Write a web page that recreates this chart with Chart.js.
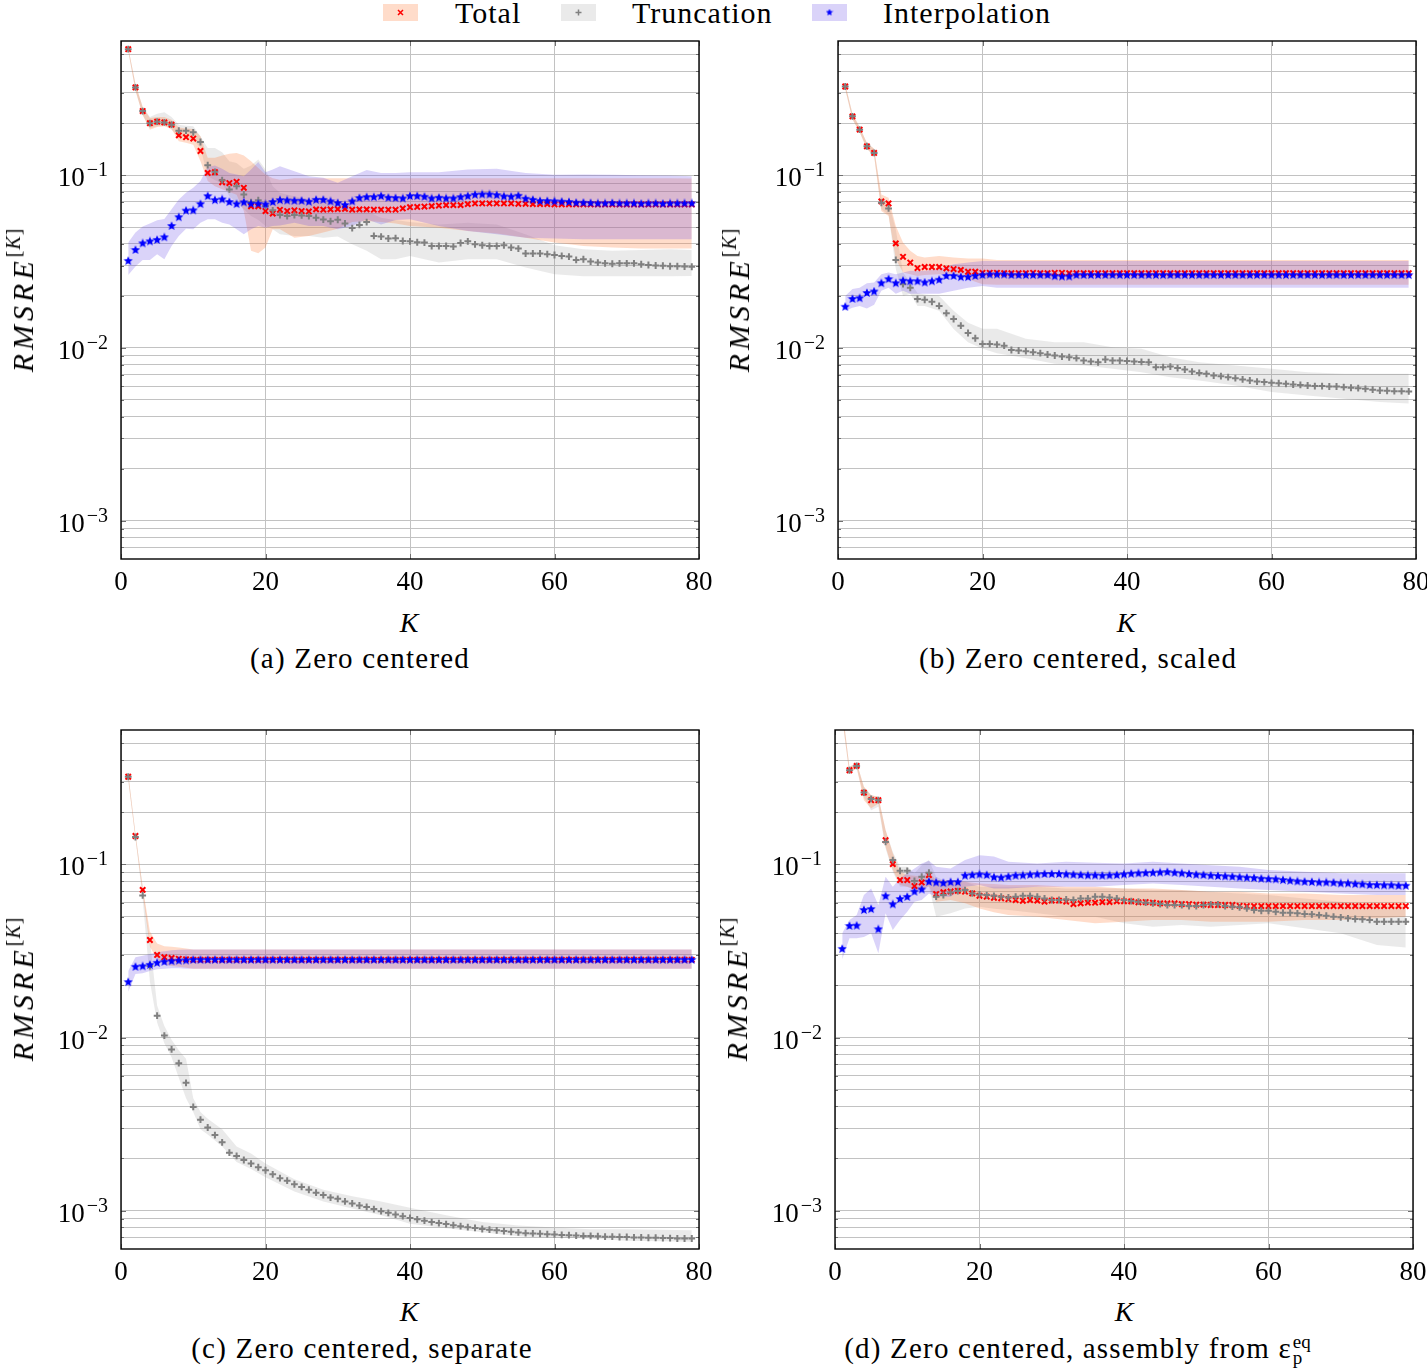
<!DOCTYPE html>
<html>
<head>
<meta charset="utf-8">
<script src="https://cdn.jsdelivr.net/npm/chart.js@4.4.1/dist/chart.umd.min.js"></script>
<style>
  html, body { margin: 0; padding: 0; background: #fff; }
  body { position: relative; width: 1427px; height: 1370px; overflow: hidden; font-family: "Liberation Serif", serif; color: #000; }
  canvas.panel { position: absolute; }
  canvas.legend-box { position: absolute; top: 4px; }
  .legend-text { position: absolute; top: -2px; font-size: 30px; line-height: 30px; letter-spacing: 1px; white-space: nowrap; }
  .caption { position: absolute; font-size: 29px; line-height: 34px; letter-spacing: 1.2px; text-align: center; white-space: nowrap; }
  .xtitle { position: absolute; width: 60px; font-size: 28px; line-height: 32px; font-style: italic; text-align: center; }
  .ytitle { position: absolute; font-size: 30px; line-height: 32px; font-style: italic; letter-spacing: 4px; white-space: nowrap; transform: translate(-50%, -50%) rotate(-90deg); }
  .ytitle .sup { font-size: 20px; vertical-align: 13px; letter-spacing: 1px; }
  .up { font-style: normal; }
  .ssw { display: inline-block; position: relative; width: 24px; height: 20px; letter-spacing: 0; }
  .ssw span { position: absolute; left: 1px; font-size: 19px; line-height: 20px; }
</style>
</head>
<body>

<canvas class="legend-box" id="lg-total" width="35" height="17" style="left:383px"></canvas>
<div class="legend-text" style="left:455px">Total</div>
<canvas class="legend-box" id="lg-trunc" width="35" height="17" style="left:561px"></canvas>
<div class="legend-text" style="left:632px">Truncation</div>
<canvas class="legend-box" id="lg-interp" width="35" height="17" style="left:812px"></canvas>
<div class="legend-text" style="left:883px">Interpolation</div>

<canvas class="panel" id="pa" width="721" height="604" style="left:0px;top:0px"></canvas>
<canvas class="panel" id="pb" width="721" height="604" style="left:717px;top:0px"></canvas>
<canvas class="panel" id="pc" width="721" height="605" style="left:0px;top:689px"></canvas>
<canvas class="panel" id="pd" width="721" height="605" style="left:714px;top:689px"></canvas>

<div class="ytitle" style="left:18px;top:300px">RMSRE<span class="sup"><span class="up">[</span>K<span class="up">]</span></span></div>
<div class="ytitle" style="left:734px;top:300px">RMSRE<span class="sup"><span class="up">[</span>K<span class="up">]</span></span></div>
<div class="ytitle" style="left:18px;top:989px">RMSRE<span class="sup"><span class="up">[</span>K<span class="up">]</span></span></div>
<div class="ytitle" style="left:732px;top:989px">RMSRE<span class="sup"><span class="up">[</span>K<span class="up">]</span></span></div>

<div class="xtitle" style="left:379px;top:607px">K</div>
<div class="xtitle" style="left:1096px;top:607px">K</div>
<div class="xtitle" style="left:379px;top:1296px">K</div>
<div class="xtitle" style="left:1094px;top:1296px">K</div>

<div class="caption" style="left:0px;top:641px;width:720px">(a) Zero centered</div>
<div class="caption" style="left:720px;top:641px;width:716px">(b) Zero centered, scaled</div>
<div class="caption" style="left:0px;top:1331px;width:724px">(c) Zero centered, separate</div>
<div class="caption" style="left:720px;top:1331px;width:720px">(d) Zero centered, assembly from ε<span class="ssw"><span style="top:-6px">eq</span><span style="top:10px">p</span></span></div>

<script>
// axis setup shared by all four panels
const Y_MIN = 0.00061;
const Y_MAX = 0.598;
const Y_GRID = [0.0007, 0.0008, 0.0009, 0.001, 0.002, 0.003, 0.004, 0.005, 0.006, 0.007, 0.008, 0.009,
  0.01, 0.02, 0.03, 0.04, 0.05, 0.06, 0.07, 0.08, 0.09, 0.1, 0.2, 0.3, 0.4, 0.5];
const Y_LABEL_VALUES = [0.001, 0.01, 0.1];
const Y_LABEL_EXPONENTS = ['−3', '−2', '−1'];
const X_TICKS = [0, 20, 40, 60, 80];

const kValues = Array.from({ length: 79 }, (_, i) => i + 1);

const RED = '#ff0000';
const GRAY = '#808080';
const BLUE = '#0000ff';
const TOTAL_BAND = 'rgba(255,128,64,0.28)';
const TRUNC_BAND = 'rgba(128,128,128,0.17)';
const INTERP_BAND = 'rgba(100,70,230,0.24)';

// (a) Zero centered
const aTotal = [0.536, 0.322, 0.235, 0.200, 0.204, 0.202, 0.196, 0.170, 0.166, 0.163,
  0.138, 0.103, 0.104, 0.091, 0.090, 0.0915, 0.0845, 0.066, 0.066, 0.062,
  0.060, 0.063, 0.062, 0.0626, 0.062, 0.0617, 0.0634, 0.0631, 0.0634, 0.0636,
  0.0638, 0.0631, 0.0634, 0.0634, 0.0631, 0.0631, 0.0631, 0.0631, 0.0642, 0.0653,
  0.0655, 0.0658, 0.0662, 0.0667, 0.0671, 0.0671, 0.0671, 0.068, 0.0686, 0.0686,
  0.0686, 0.0686, 0.0686, 0.0686, 0.0683, 0.0683, 0.068, 0.068, 0.068, 0.0677,
  0.0677, 0.0677, 0.0677, 0.0677, 0.0677, 0.0677, 0.0677, 0.0677, 0.0677, 0.0677,
  0.0677, 0.0677, 0.0677, 0.0677, 0.0677, 0.0677, 0.0677, 0.0677, 0.0677];
const aTrunc = [0.536, 0.322, 0.235, 0.200, 0.204, 0.202, 0.196, 0.181, 0.181, 0.177,
  0.1556, 0.1143, 0.1045, 0.0936, 0.0827, 0.0864, 0.0773, 0.0699, 0.0717, 0.0662,
  0.0626, 0.0588, 0.0580, 0.0588, 0.0585, 0.0580, 0.0567, 0.0553, 0.0541, 0.0552,
  0.0526, 0.0494, 0.0515, 0.0535, 0.0445, 0.0441, 0.0430, 0.0432, 0.0416, 0.0414,
  0.0409, 0.0407, 0.0389, 0.0389, 0.0389, 0.0386, 0.0405, 0.0414, 0.0398, 0.0393,
  0.0389, 0.0389, 0.0393, 0.0381, 0.0376, 0.0352, 0.0352, 0.0352, 0.0349, 0.0345,
  0.0341, 0.0338, 0.0323, 0.0326, 0.0316, 0.0312, 0.0309, 0.0307, 0.0309, 0.0309,
  0.0309, 0.0305, 0.0302, 0.0300, 0.0299, 0.0297, 0.0297, 0.0296, 0.0295];
const aInterp = [0.0319, 0.0369, 0.0403, 0.0414, 0.0422, 0.0437, 0.0508, 0.0571, 0.0623, 0.0626,
  0.0680, 0.0756, 0.0717, 0.0724, 0.0699, 0.0680, 0.0696, 0.0683, 0.0683, 0.0677,
  0.0699, 0.0717, 0.0714, 0.0711, 0.0711, 0.0702, 0.0720, 0.0720, 0.0705, 0.0689,
  0.0671, 0.0705, 0.0737, 0.0746, 0.0746, 0.0756, 0.0740, 0.0737, 0.0733, 0.0756,
  0.0756, 0.0750, 0.0733, 0.0740, 0.0733, 0.0733, 0.0746, 0.0756, 0.0770, 0.0773,
  0.0773, 0.0766, 0.0753, 0.0750, 0.0760, 0.0730, 0.0720, 0.0708, 0.0708, 0.0705,
  0.0702, 0.0699, 0.0692, 0.0692, 0.0689, 0.0686, 0.0686, 0.0689, 0.0686, 0.0686,
  0.0686, 0.0683, 0.0686, 0.0686, 0.0683, 0.0686, 0.0686, 0.0686, 0.0686];
const aBandK = [1, 2, 3, 4, 5, 6, 7, 8, 9, 10, 11, 12, 13, 14, 15, 16, 17, 18, 19, 20, 21, 22,
  24, 26, 28, 30, 32, 34, 36, 38, 40, 44, 48, 52, 56, 60, 64, 68, 72, 76, 79];
const aTotalHi = [0.548, 0.338, 0.248, 0.214, 0.217, 0.217, 0.209, 0.189, 0.186, 0.185,
  0.168, 0.126, 0.126, 0.130, 0.133, 0.1345, 0.130, 0.1205, 0.110, 0.101, 0.096, 0.094,
  0.096, 0.0961, 0.0961, 0.0961, 0.0961, 0.0961, 0.0961, 0.0961, 0.0961,
  0.0961, 0.0961, 0.0961, 0.0961, 0.0961, 0.0961, 0.096, 0.096, 0.096, 0.0958];
const aTotalLo = [0.523, 0.309, 0.223, 0.1835, 0.190, 0.192, 0.185, 0.157, 0.154, 0.150,
  0.1205, 0.0924, 0.0864, 0.083, 0.080, 0.077, 0.062, 0.0365, 0.0353, 0.0381, 0.0486, 0.0486,
  0.0435, 0.0445, 0.0465, 0.049, 0.0535, 0.0543, 0.0535, 0.0526, 0.0508,
  0.0497, 0.0475, 0.046, 0.0435, 0.0407, 0.0389, 0.0381, 0.0376, 0.0376, 0.0376];
const aInterpHi = [0.0407, 0.0465, 0.0505, 0.0526, 0.0548, 0.0557, 0.0634, 0.0724, 0.0791, 0.0845,
  0.0924, 0.1116, 0.1138, 0.1088, 0.1031, 0.1009, 0.0987, 0.1078, 0.1190, 0.104, 0.1078, 0.1127,
  0.1054, 0.0987, 0.0965, 0.0903, 0.0987, 0.107, 0.1031, 0.1031, 0.104,
  0.104, 0.1078, 0.1088, 0.1031, 0.1005, 0.1009, 0.1005, 0.100, 0.0996, 0.0987];
const aInterpLo = [0.0264, 0.0296, 0.0323, 0.0323, 0.0349, 0.0326, 0.0389, 0.0445, 0.049, 0.0486,
  0.0531, 0.0555, 0.0555, 0.0531, 0.0519, 0.0486, 0.0455, 0.0486, 0.0508, 0.0497, 0.0508, 0.0512,
  0.0531, 0.0508, 0.0508, 0.0486, 0.0508, 0.0555, 0.0519, 0.055, 0.0555,
  0.0508, 0.0475, 0.0455, 0.0435, 0.043, 0.0426, 0.0426, 0.0426, 0.0426, 0.0426];
const aTruncHi = [0.548, 0.338, 0.248, 0.217, 0.227, 0.231, 0.217, 0.196, 0.193, 0.192,
  0.168, 0.1438, 0.1438, 0.1356, 0.1205, 0.1178, 0.1088, 0.1138, 0.1231, 0.1078, 0.0864, 0.0791,
  0.0756, 0.0724, 0.0708, 0.0699, 0.0662, 0.062, 0.0567, 0.055, 0.0535,
  0.0519, 0.0531, 0.0519, 0.0455, 0.0393, 0.0373, 0.0365, 0.0369, 0.0373, 0.0369];
const aTruncLo = [0.523, 0.309, 0.223, 0.187, 0.192, 0.196, 0.1835, 0.1663, 0.1663, 0.1605,
  0.1438, 0.0987, 0.0936, 0.0894, 0.0756, 0.0692, 0.0634, 0.058, 0.055, 0.0508, 0.0486, 0.0455,
  0.0445, 0.0445, 0.0435, 0.0441, 0.0398, 0.0365, 0.0326, 0.0326, 0.0341,
  0.0312, 0.0326, 0.0326, 0.0292, 0.0267, 0.026, 0.026, 0.026, 0.026, 0.0261];

// (b) Zero centered, scaled
const bTotal = [0.326, 0.219, 0.1835, 0.147, 0.1345, 0.0705, 0.0686, 0.0403, 0.0337, 0.0312,
  0.0290, 0.0294, 0.0294, 0.0294, 0.0289, 0.0286, 0.0283, 0.0276, 0.0276, 0.0272,
  0.0272, 0.0272, 0.0271, 0.0271, 0.0271, 0.0271, 0.0272, 0.0271, 0.0271, 0.0272,
  0.0272, 0.0271, 0.0271, 0.0271, 0.0271, 0.0271, 0.0271, 0.0271, 0.0271, 0.0271,
  0.0271, 0.0271, 0.0271, 0.0271, 0.0271, 0.0271, 0.0271, 0.0271, 0.0271, 0.0271,
  0.0271, 0.0271, 0.0271, 0.0271, 0.0271, 0.0271, 0.0271, 0.0271, 0.0271, 0.0271,
  0.0271, 0.0271, 0.0271, 0.0271, 0.0271, 0.0271, 0.0271, 0.0271, 0.0271, 0.0271,
  0.0271, 0.0271, 0.0271, 0.0271, 0.0271, 0.0271, 0.0271, 0.0271, 0.0271];
const bTrunc = [0.326, 0.219, 0.1835, 0.147, 0.1345, 0.0692, 0.0642, 0.0323, 0.0234, 0.0223,
  0.0192, 0.0190, 0.0185, 0.0175, 0.0159, 0.0147, 0.01345, 0.0122, 0.01138, 0.01055,
  0.01055, 0.01045, 0.0103, 0.00973, 0.00966, 0.00957, 0.00945, 0.00932, 0.00916, 0.00904,
  0.00891, 0.00883, 0.00872, 0.00845, 0.00834, 0.00826, 0.00857, 0.00845, 0.00845, 0.00841,
  0.00834, 0.00830, 0.00826, 0.00774, 0.00774, 0.00780, 0.00764, 0.00750, 0.00730, 0.00717,
  0.00708, 0.00692, 0.00686, 0.00677, 0.00668, 0.00657, 0.00648, 0.00639, 0.00634, 0.00628,
  0.00625, 0.00620, 0.00614, 0.00611, 0.00606, 0.00601, 0.00601, 0.00598, 0.00598, 0.00593,
  0.00588, 0.00585, 0.00580, 0.00573, 0.00567, 0.00565, 0.00562, 0.00562, 0.00560];
const bInterp = [0.0173, 0.0192, 0.0194, 0.0208, 0.0212, 0.0237, 0.0250, 0.0237, 0.0245, 0.0243,
  0.0243, 0.0239, 0.0243, 0.0248, 0.0261, 0.0261, 0.0257, 0.0257, 0.0261, 0.0264,
  0.0266, 0.0266, 0.0266, 0.0264, 0.0264, 0.0264, 0.0264, 0.0264, 0.0264, 0.0260,
  0.0259, 0.0259, 0.0264, 0.0264, 0.0264, 0.0264, 0.0264, 0.0264, 0.0264, 0.0264,
  0.0264, 0.0264, 0.0264, 0.0264, 0.0264, 0.0264, 0.0264, 0.0264, 0.0264, 0.0264,
  0.0264, 0.0264, 0.0264, 0.0264, 0.0264, 0.0264, 0.0264, 0.0264, 0.0264, 0.0264,
  0.0264, 0.0264, 0.0264, 0.0264, 0.0264, 0.0264, 0.0264, 0.0264, 0.0264, 0.0264,
  0.0264, 0.0264, 0.0264, 0.0264, 0.0264, 0.0264, 0.0264, 0.0264, 0.0264];
const bBandK = [1, 2, 3, 4, 5, 6, 7, 8, 9, 10, 11, 12, 14, 16, 18, 20, 22,
  26, 30, 34, 38, 42, 46, 50, 55, 60, 65, 70, 75, 79];
const bTotalHi = [0.337, 0.227, 0.190, 0.1536, 0.142, 0.0773, 0.074, 0.0508, 0.0407, 0.0365,
  0.0341, 0.0334, 0.0341, 0.0334, 0.0329, 0.0329, 0.0323,
  0.0323, 0.0323, 0.0323, 0.0323, 0.0323, 0.0323, 0.0323, 0.0323, 0.0323, 0.0323, 0.0323, 0.0323, 0.0323];
const bTotalLo = [0.314, 0.211, 0.177, 0.142, 0.1288, 0.062, 0.058, 0.0326, 0.0273, 0.0267,
  0.0261, 0.0264, 0.0267, 0.0264, 0.025, 0.0234, 0.0232,
  0.0232, 0.0232, 0.0232, 0.0232, 0.0232, 0.0232, 0.0232, 0.0232, 0.0232, 0.0232, 0.0232, 0.0232, 0.0232];
const bInterpHi = [0.0200, 0.0219, 0.0223, 0.0237, 0.0239, 0.0267, 0.0273, 0.0267, 0.0273, 0.0280,
  0.0280, 0.0280, 0.0286, 0.0305, 0.0312, 0.0319, 0.0319,
  0.0319, 0.0319, 0.0319, 0.0319, 0.0319, 0.0319, 0.0319, 0.0319, 0.0319, 0.0319, 0.0319, 0.0319, 0.0319];
const bInterpLo = [0.0164, 0.0171, 0.0175, 0.0169, 0.0178, 0.0214, 0.0223, 0.0206, 0.0214, 0.0206,
  0.0206, 0.0206, 0.0206, 0.0214, 0.0223, 0.0228, 0.0223,
  0.0223, 0.0223, 0.0223, 0.0223, 0.0223, 0.0223, 0.0223, 0.0223, 0.0223, 0.0223, 0.0223, 0.0223, 0.0223];
const bTruncHi = [0.337, 0.227, 0.190, 0.1536, 0.142, 0.074, 0.0692, 0.0486, 0.0273, 0.0239,
  0.0208, 0.0204, 0.0200, 0.0164, 0.0140, 0.0129, 0.0129,
  0.0113, 0.0108, 0.0108, 0.0101, 0.0099, 0.00883, 0.00826, 0.0079, 0.00757, 0.00724, 0.00708, 0.00708, 0.00708];
const bTruncLo = [0.314, 0.211, 0.177, 0.142, 0.1288, 0.0634, 0.0593, 0.0286, 0.0200, 0.0206,
  0.0175, 0.0175, 0.0164, 0.01285, 0.0108, 0.0099, 0.0093,
  0.0087, 0.0081, 0.0079, 0.00757, 0.00724, 0.00677, 0.00648, 0.00606, 0.00555, 0.00531, 0.00508, 0.00486, 0.00476];

// (c) Zero centered, separate
const cTotal = [0.321, 0.146, 0.0713, 0.0366, 0.0300, 0.0291, 0.0288, 0.0285, 0.0283, 0.0281,
  0.0281, 0.0281, 0.0281, 0.0281, 0.0281, 0.0281, 0.0281, 0.0281, 0.0281, 0.0281,
  0.0281, 0.0281, 0.0281, 0.0281, 0.0281, 0.0281, 0.0281, 0.0281, 0.0281, 0.0281,
  0.0281, 0.0281, 0.0281, 0.0281, 0.0281, 0.0281, 0.0281, 0.0281, 0.0281, 0.0281,
  0.0281, 0.0281, 0.0281, 0.0281, 0.0281, 0.0281, 0.0281, 0.0281, 0.0281, 0.0281,
  0.0281, 0.0281, 0.0281, 0.0281, 0.0281, 0.0281, 0.0281, 0.0281, 0.0281, 0.0281,
  0.0281, 0.0281, 0.0281, 0.0281, 0.0281, 0.0281, 0.0281, 0.0281, 0.0281, 0.0281,
  0.0281, 0.0281, 0.0281, 0.0281, 0.0281, 0.0281, 0.0281, 0.0281, 0.0281];
const cTrunc = [0.321, 0.144, 0.0662, 0.0259, 0.01337, 0.01026, 0.00853, 0.00711, 0.00547, 0.00397,
  0.00335, 0.00302, 0.00273, 0.00248, 0.00216, 0.00207, 0.00196, 0.00187, 0.00178, 0.00171,
  0.00162, 0.00154, 0.00149, 0.00142, 0.00137, 0.00132, 0.00127, 0.00123, 0.00119, 0.00117,
  0.00113, 0.00110, 0.00107, 0.00105, 0.00102, 0.000993, 0.000971, 0.000949, 0.000928, 0.000906,
  0.000891, 0.000875, 0.000859, 0.000847, 0.000836, 0.000824, 0.000813, 0.000802, 0.000794, 0.000783,
  0.000776, 0.000769, 0.000762, 0.000755, 0.000748, 0.000741, 0.000738, 0.000735, 0.000731, 0.000728,
  0.000724, 0.000721, 0.000717, 0.000714, 0.000714, 0.000711, 0.000707, 0.000707, 0.000704, 0.000704,
  0.000700, 0.000700, 0.000697, 0.000697, 0.000694, 0.000694, 0.000690, 0.000690, 0.000690];
const cInterp = [0.0209, 0.0256, 0.0258, 0.0263, 0.0270, 0.0274, 0.0276, 0.0278, 0.0279, 0.0281,
  0.0281, 0.0281, 0.0281, 0.0281, 0.0281, 0.0281, 0.0281, 0.0281, 0.0281, 0.0281,
  0.0281, 0.0281, 0.0281, 0.0281, 0.0281, 0.0281, 0.0281, 0.0281, 0.0281, 0.0281,
  0.0281, 0.0281, 0.0281, 0.0281, 0.0281, 0.0281, 0.0281, 0.0281, 0.0281, 0.0281,
  0.0281, 0.0281, 0.0281, 0.0281, 0.0281, 0.0281, 0.0281, 0.0281, 0.0281, 0.0281,
  0.0281, 0.0281, 0.0281, 0.0281, 0.0281, 0.0281, 0.0281, 0.0281, 0.0281, 0.0281,
  0.0281, 0.0281, 0.0281, 0.0281, 0.0281, 0.0281, 0.0281, 0.0281, 0.0281, 0.0281,
  0.0281, 0.0281, 0.0281, 0.0281, 0.0281, 0.0281, 0.0281, 0.0281, 0.0281];
const cBandK = [1, 2, 3, 4, 5, 6, 7, 8, 9, 10, 11, 12, 14, 16, 18, 20, 24, 28, 32, 36, 40, 45, 50, 55, 60, 65, 70, 79];
const cTotalHi = [0.336, 0.151, 0.0743, 0.041, 0.0349, 0.0337, 0.0334, 0.0331, 0.0327, 0.0323,
  0.0323, 0.0323, 0.0323, 0.0323, 0.0323, 0.0323, 0.0323, 0.0323, 0.0323, 0.0323,
  0.0323, 0.0323, 0.0323, 0.0323, 0.0323, 0.0323, 0.0323, 0.0323];
const cTotalLo = [0.307, 0.141, 0.0678, 0.0334, 0.0284, 0.0263, 0.0259, 0.0256, 0.0253, 0.0250,
  0.0250, 0.0250, 0.0250, 0.0250, 0.0250, 0.0250, 0.0250, 0.0250, 0.0250, 0.0250,
  0.0250, 0.0250, 0.0250, 0.0250, 0.0250, 0.0250, 0.0250, 0.0250];
const cInterpHi = [0.0242, 0.0291, 0.0297, 0.0304, 0.0311, 0.0315, 0.0319, 0.0321, 0.0322, 0.0323,
  0.0323, 0.0323, 0.0323, 0.0323, 0.0323, 0.0323, 0.0323, 0.0323, 0.0323, 0.0323,
  0.0323, 0.0323, 0.0323, 0.0323, 0.0323, 0.0323, 0.0323, 0.0323];
const cInterpLo = [0.0184, 0.0233, 0.0235, 0.0242, 0.0248, 0.0250, 0.0251, 0.0251, 0.0250, 0.0250,
  0.0250, 0.0250, 0.0250, 0.0250, 0.0250, 0.0250, 0.0250, 0.0250, 0.0250, 0.0250,
  0.0250, 0.0250, 0.0250, 0.0250, 0.0250, 0.0250, 0.0250, 0.0250];
const cTruncHi = [0.336, 0.151, 0.0743, 0.0366, 0.0153, 0.01164, 0.0097, 0.00845, 0.00753, 0.00446,
  0.00371, 0.00339, 0.00295, 0.00235, 0.00214, 0.00187, 0.00152, 0.00132, 0.00121, 0.00113,
  0.00104, 0.00094, 0.00086, 0.00082, 0.00080, 0.00078, 0.00078, 0.00077];
const cTruncLo = [0.307, 0.141, 0.0633, 0.0211, 0.0122, 0.00927, 0.0077, 0.00586, 0.00446, 0.00371,
  0.00295, 0.00275, 0.00235, 0.00191, 0.00174, 0.00156, 0.00129, 0.00113, 0.00103, 0.00094,
  0.00084, 0.00079, 0.00075, 0.00071, 0.00070, 0.00069, 0.00067, 0.00066];

// (d) Zero centered, assembly from eps_p^eq  (K=1 of total/truncation lies above the axis)
const dTotal = [0.75, 0.350, 0.371, 0.260, 0.235, 0.235, 0.138, 0.1004, 0.0812, 0.0812,
  0.075, 0.0787, 0.0868, 0.0674, 0.0692, 0.0698, 0.0704, 0.0696, 0.0680, 0.0659,
  0.0651, 0.0642, 0.0637, 0.0630, 0.0623, 0.0616, 0.0623, 0.0618, 0.0609, 0.0618,
  0.0618, 0.0609, 0.0590, 0.0596, 0.0601, 0.0601, 0.0606, 0.0606, 0.0612, 0.0612,
  0.0612, 0.0604, 0.0606, 0.0601, 0.0596, 0.0596, 0.0596, 0.0590, 0.0590, 0.0586,
  0.0586, 0.0583, 0.0583, 0.0583, 0.0583, 0.0577, 0.0575, 0.0575, 0.0575, 0.0575,
  0.0575, 0.0575, 0.0575, 0.0575, 0.0575, 0.0575, 0.0575, 0.0575, 0.0575, 0.0575,
  0.0575, 0.0575, 0.0575, 0.0575, 0.0575, 0.0575, 0.0575, 0.0575, 0.0575];
const dTrunc = [0.75, 0.350, 0.371, 0.260, 0.239, 0.235, 0.135, 0.106, 0.0919, 0.0919,
  0.0802, 0.0849, 0.0895, 0.0651, 0.0666, 0.0689, 0.0702, 0.0711, 0.0680, 0.0671,
  0.0665, 0.0659, 0.0651, 0.0645, 0.0651, 0.0659, 0.0659, 0.0651, 0.0636, 0.0623,
  0.0623, 0.0628, 0.0623, 0.0636, 0.0636, 0.0651, 0.0651, 0.0645, 0.0636, 0.0623,
  0.0614, 0.0609, 0.0601, 0.0596, 0.0590, 0.0583, 0.0583, 0.0583, 0.0575, 0.0575,
  0.0583, 0.0588, 0.0588, 0.0575, 0.0570, 0.0565, 0.0557, 0.0545, 0.0540, 0.0540,
  0.0533, 0.0526, 0.0526, 0.0522, 0.0517, 0.0515, 0.0510, 0.0506, 0.0499, 0.0495,
  0.0488, 0.0484, 0.0482, 0.0478, 0.0467, 0.0467, 0.0467, 0.0467, 0.0467];
const dInterp = [0.0325, 0.0441, 0.0443, 0.0545, 0.0552, 0.0422, 0.0656, 0.0588, 0.0631, 0.0649,
  0.0696, 0.0717, 0.0794, 0.0787, 0.0780, 0.0790, 0.0790, 0.0861, 0.0868, 0.0875,
  0.0868, 0.0842, 0.0838, 0.0849, 0.0861, 0.0864, 0.0872, 0.0876, 0.0880, 0.0880,
  0.0880, 0.0876, 0.0872, 0.0868, 0.0864, 0.0864, 0.0861, 0.0864, 0.0868, 0.0876,
  0.0884, 0.0888, 0.0891, 0.0895, 0.0899, 0.0903, 0.0895, 0.0888, 0.0880, 0.0872,
  0.0868, 0.0861, 0.0857, 0.0853, 0.0849, 0.0842, 0.0838, 0.0834, 0.0827, 0.0823,
  0.0820, 0.0812, 0.0805, 0.0798, 0.0794, 0.0791, 0.0787, 0.0787, 0.0784, 0.0777,
  0.0777, 0.0770, 0.0767, 0.0760, 0.0760, 0.0757, 0.0757, 0.0753, 0.0753];
const dBandK = [1, 2, 3, 4, 5, 6, 7, 8, 9, 10, 11, 12, 13, 14,
  16, 18, 20, 22, 24, 28, 32, 36, 40, 44, 48, 52, 56, 60, 65, 70, 75, 79];
const dTotalHi = [0.80, 0.366, 0.388, 0.281, 0.251, 0.246, 0.158, 0.116, 0.0907, 0.0868, 0.086, 0.0849, 0.090, 0.0812,
  0.0812, 0.0794, 0.0777, 0.077, 0.076, 0.076, 0.0743, 0.0743, 0.0727, 0.0727, 0.0711, 0.0696, 0.0696, 0.068, 0.068, 0.0665, 0.0665, 0.0665];
const dTotalLo = [0.70, 0.333, 0.362, 0.235, 0.211, 0.224, 0.1265, 0.093, 0.076, 0.0743, 0.072, 0.0711, 0.075, 0.0609,
  0.0623, 0.0596, 0.0557, 0.053, 0.051, 0.0499, 0.0478, 0.0457, 0.0467, 0.0478, 0.0478, 0.0467, 0.0467, 0.0467, 0.0478, 0.0478, 0.0488, 0.0499];
const dInterpHi = [0.040, 0.0478, 0.051, 0.0665, 0.0727, 0.0582, 0.0849, 0.0743, 0.0831, 0.0888, 0.0948, 0.1013, 0.105, 0.097,
  0.0948, 0.106, 0.113, 0.111, 0.1036, 0.1013, 0.1036, 0.1022, 0.1013, 0.1036, 0.1013, 0.099, 0.097, 0.0928, 0.0907, 0.0888, 0.0888, 0.0888];
const dInterpLo = [0.0283, 0.0374, 0.0374, 0.0381, 0.040, 0.0307, 0.0522, 0.0418, 0.0478, 0.0533, 0.0609, 0.0623, 0.068, 0.0651,
  0.0651, 0.0743, 0.076, 0.0727, 0.0727, 0.0743, 0.0743, 0.0743, 0.076, 0.0777, 0.076, 0.0743, 0.0727, 0.0711, 0.0696, 0.068, 0.0665, 0.0665];
const dTruncHi = [0.80, 0.366, 0.388, 0.281, 0.251, 0.246, 0.158, 0.118, 0.097, 0.097, 0.0888, 0.099, 0.106, 0.0849,
  0.0777, 0.0794, 0.0743, 0.0743, 0.0743, 0.0743, 0.0727, 0.0727, 0.0727, 0.0711, 0.0711, 0.0696, 0.068, 0.0665, 0.0636, 0.0609, 0.0583, 0.057];
const dTruncLo = [0.70, 0.333, 0.362, 0.2445, 0.2055, 0.2155, 0.1237, 0.0907, 0.0743, 0.0743, 0.0711, 0.0727, 0.0743, 0.0499,
  0.0522, 0.0557, 0.057, 0.0555, 0.0545, 0.0522, 0.0499, 0.0499, 0.0457, 0.0437, 0.0447, 0.0437, 0.0447, 0.0457, 0.0428, 0.040, 0.0342, 0.0331];

const SERIF = '"Liberation Serif", "Times New Roman", serif';
Chart.defaults.font.family = SERIF;

// five-pointed star mark, used as a custom pointStyle
function makeStar(size, color) {
  const c = document.createElement('canvas');
  c.width = size; c.height = size;
  const g = c.getContext('2d');
  const cx = size / 2, cy = size / 2, ro = size / 2 - 0.2, ri = ro * 0.45;
  g.beginPath();
  for (let i = 0; i < 10; i++) {
    const r = i % 2 === 0 ? ro : ri;
    const ang = -Math.PI / 2 + i * Math.PI / 5;
    const px = cx + r * Math.cos(ang), py = cy + r * Math.sin(ang);
    if (i === 0) g.moveTo(px, py); else g.lineTo(px, py);
  }
  g.closePath();
  g.fillStyle = color;
  g.fill();
  return c;
}
const STAR = makeStar(10, BLUE);

// frame, inner tick marks and the 10^n labels
const panelDecor = {
  id: 'panelDecor',
  afterDatasetsDraw(chart) {
    const { ctx, chartArea: a, scales: { x, y } } = chart;
    ctx.save();
    ctx.strokeStyle = '#707070';
    ctx.lineWidth = 1;
    ctx.beginPath();
    X_TICKS.forEach(v => {
      const px = Math.round(x.getPixelForValue(v)) + 0.5;
      ctx.moveTo(px, a.bottom); ctx.lineTo(px, a.bottom - 5);
      ctx.moveTo(px, a.top); ctx.lineTo(px, a.top + 5);
    });
    Y_GRID.forEach(v => {
      const len = Y_LABEL_VALUES.includes(v) ? 5 : 3;
      const py = Math.round(y.getPixelForValue(v)) + 0.5;
      ctx.moveTo(a.left, py); ctx.lineTo(a.left + len, py);
      ctx.moveTo(a.right, py); ctx.lineTo(a.right - len, py);
    });
    ctx.stroke();

    ctx.strokeStyle = '#000';
    ctx.lineWidth = 1.4;
    ctx.strokeRect(a.left, a.top, a.right - a.left, a.bottom - a.top);

    ctx.fillStyle = '#000';
    ctx.textAlign = 'right';
    ctx.textBaseline = 'alphabetic';
    Y_LABEL_VALUES.forEach((v, i) => {
      const py = y.getPixelForValue(v);
      const right = a.left - 13;
      ctx.font = '20px ' + SERIF;
      const ew = ctx.measureText(Y_LABEL_EXPONENTS[i]).width;
      ctx.fillText(Y_LABEL_EXPONENTS[i], right, py + 1);
      ctx.font = '27px ' + SERIF;
      ctx.fillText('10', right - ew - 2, py + 11);
    });
    ctx.restore();
  }
};

function bandSets(ks, lo, hi, color, order) {
  const common = { borderColor: 'transparent', borderWidth: 0, pointRadius: 0, pointHoverRadius: 0, tension: 0, showLine: true, order };
  return [
    { ...common, data: ks.map((k, i) => ({ x: k, y: hi[i] })), fill: false },
    { ...common, data: ks.map((k, i) => ({ x: k, y: lo[i] })), fill: '-1', backgroundColor: color }
  ];
}

function markerSet(values, style, color, radius, width, order) {
  return {
    data: values.map((v, i) => ({ x: kValues[i], y: v })),
    showLine: false,
    pointStyle: style,
    pointRadius: radius,
    pointHoverRadius: radius,
    pointBorderColor: color,
    pointBackgroundColor: color,
    pointBorderWidth: width,
    borderColor: color,
    order
  };
}

function buildPanel(canvasId, s) {
  const ctx = document.getElementById(canvasId).getContext('2d');
  const datasets = [
    ...bandSets(s.bandK, s.truncLo, s.truncHi, TRUNC_BAND, 12),
    ...bandSets(s.bandK, s.totalLo, s.totalHi, TOTAL_BAND, 11),
    ...bandSets(s.bandK, s.interpLo, s.interpHi, INTERP_BAND, 10),
    markerSet(s.total, 'crossRot', RED, 3.8, 2, 3),
    markerSet(s.trunc, 'cross', GRAY, 3.4, 2, 2),
    markerSet(s.interp, STAR, BLUE, 5, 1, 1)
  ];
  return new Chart(ctx, {
    type: 'line',
    data: { datasets },
    options: {
      responsive: false,
      animation: false,
      devicePixelRatio: 1,
      events: [],
      layout: { padding: { top: 41, right: 22, left: 0, bottom: 0 } },
      plugins: { legend: { display: false }, tooltip: { enabled: false } },
      scales: {
        x: {
          type: 'linear',
          min: 0,
          max: 80,
          afterBuildTicks: scale => { scale.ticks = X_TICKS.map(v => ({ value: v })); },
          afterFit: scale => { scale.height = 45; },
          grid: { color: '#c2c2c2', lineWidth: 1, drawTicks: false },
          border: { display: false },
          ticks: { color: '#000', font: { size: 27, family: SERIF }, padding: 8, maxRotation: 0, autoSkip: false }
        },
        y: {
          type: 'logarithmic',
          min: Y_MIN,
          max: Y_MAX,
          afterBuildTicks: scale => { scale.ticks = Y_GRID.map(v => ({ value: v })); },
          afterFit: scale => { scale.width = 121; },
          grid: { color: '#c2c2c2', lineWidth: 1, drawTicks: false },
          border: { display: false },
          ticks: { display: false, autoSkip: false }
        }
      }
    },
    plugins: [panelDecor]
  });
}

function drawLegendBox(id, fill, style, color) {
  const c = document.getElementById(id);
  const g = c.getContext('2d');
  g.fillStyle = fill;
  g.fillRect(0, 0, c.width, c.height);
  const cx = c.width / 2, cy = c.height / 2;
  if (style === 'star') {
    g.drawImage(makeStar(8, color), cx - 4, cy - 4);
    return;
  }
  g.strokeStyle = color;
  g.lineWidth = 1.5;
  g.beginPath();
  if (style === 'crossRot') {
    g.moveTo(cx - 2.5, cy - 2.5); g.lineTo(cx + 2.5, cy + 2.5);
    g.moveTo(cx + 2.5, cy - 2.5); g.lineTo(cx - 2.5, cy + 2.5);
  } else {
    g.moveTo(cx, cy - 3); g.lineTo(cx, cy + 3);
    g.moveTo(cx - 3, cy); g.lineTo(cx + 3, cy);
  }
  g.stroke();
}

document.addEventListener('DOMContentLoaded', () => {
  drawLegendBox('lg-total', TOTAL_BAND, 'crossRot', RED);
  drawLegendBox('lg-trunc', TRUNC_BAND, 'cross', GRAY);
  drawLegendBox('lg-interp', INTERP_BAND, 'star', BLUE);

  buildPanel('pa', { total: aTotal, trunc: aTrunc, interp: aInterp, bandK: aBandK,
    totalLo: aTotalLo, totalHi: aTotalHi, truncLo: aTruncLo, truncHi: aTruncHi, interpLo: aInterpLo, interpHi: aInterpHi });
  buildPanel('pb', { total: bTotal, trunc: bTrunc, interp: bInterp, bandK: bBandK,
    totalLo: bTotalLo, totalHi: bTotalHi, truncLo: bTruncLo, truncHi: bTruncHi, interpLo: bInterpLo, interpHi: bInterpHi });
  buildPanel('pc', { total: cTotal, trunc: cTrunc, interp: cInterp, bandK: cBandK,
    totalLo: cTotalLo, totalHi: cTotalHi, truncLo: cTruncLo, truncHi: cTruncHi, interpLo: cInterpLo, interpHi: cInterpHi });
  buildPanel('pd', { total: dTotal, trunc: dTrunc, interp: dInterp, bandK: dBandK,
    totalLo: dTotalLo, totalHi: dTotalHi, truncLo: dTruncLo, truncHi: dTruncHi, interpLo: dInterpLo, interpHi: dInterpHi });
});
</script>
</body>
</html>
